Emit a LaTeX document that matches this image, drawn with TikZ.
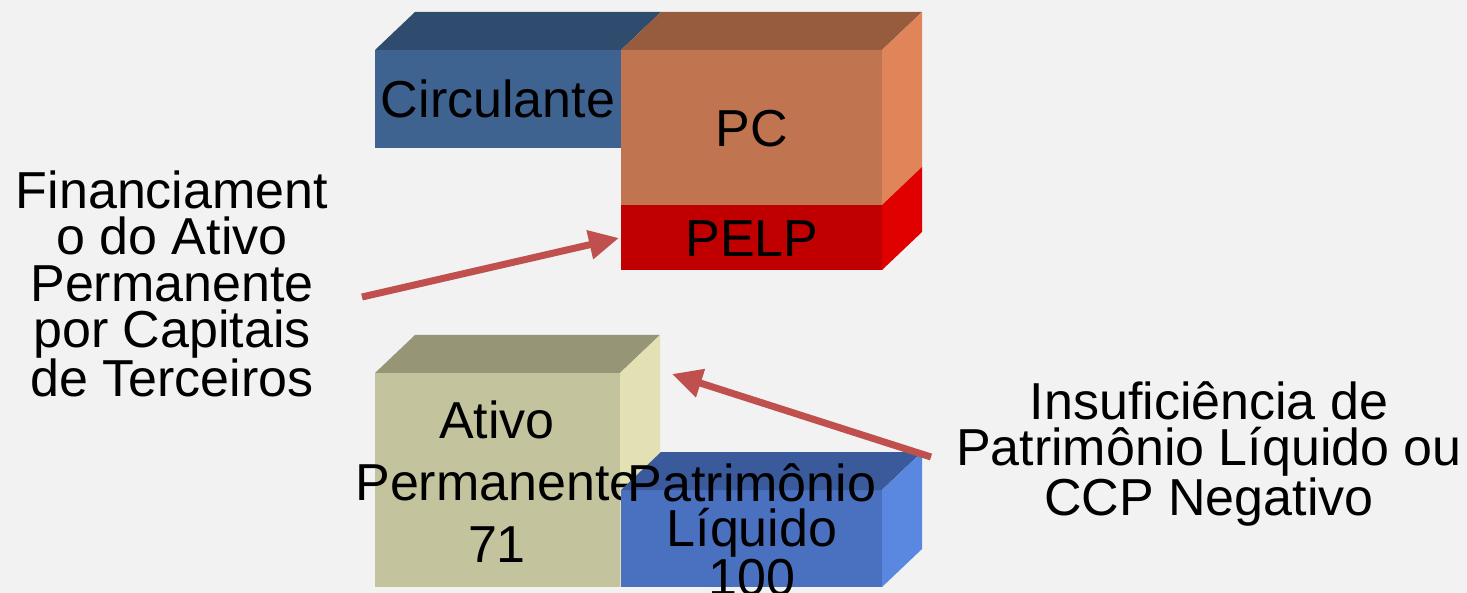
\documentclass[tikz,border=0pt]{standalone}
\usepackage{fontspec}
\setmainfont{Liberation Sans}
\usetikzlibrary{arrows.meta}
\definecolor{bg}{HTML}{F2F2F2}
\definecolor{cirF}{HTML}{3F6391}
\definecolor{cirT}{HTML}{2F4B6E}
\definecolor{pcF}{HTML}{C07450}
\definecolor{pcT}{HTML}{975B3D}
\definecolor{pcR}{HTML}{E0855A}
\definecolor{peF}{HTML}{C00000}
\definecolor{peR}{HTML}{E10000}
\definecolor{atF}{HTML}{C3C39D}
\definecolor{atT}{HTML}{969677}
\definecolor{atR}{HTML}{E3E1B3}
\definecolor{plF}{HTML}{4A71C0}
\definecolor{plT}{HTML}{3A5A9C}
\definecolor{plR}{HTML}{5A88E0}
\definecolor{arr}{HTML}{C0504D}
\tikzset{
  lbl/.style={inner sep=0pt, anchor=base, align=center, font=\fontsize{52pt}{46.5pt}\selectfont},
  boxlbl/.style={inner sep=0pt, anchor=base, align=center, font=\fontsize{52pt}{62pt}\selectfont},
  pllbl/.style={inner sep=0pt, anchor=base, align=center, font=\fontsize{52pt}{45pt}\selectfont},
  conn/.style={draw=arr, line width=7pt, -{Triangle[length=30pt,width=28pt]}}
}
\begin{document}
\begin{tikzpicture}[x=1pt,y=-1pt]
\useasboundingbox[fill=bg] (0,0) rectangle (1467,593);
% Circulante
\fill[cirF] (375,50) rectangle (621,148);
\fill[cirT] (375,50) -- (621,50) -- (661,12) -- (415,12) -- cycle;
\node[lbl] (circ) at (498,118) {Circulante};
% PC
\fill[pcF] (621,50) rectangle (882,205);
\fill[pcT] (621,50) -- (882,50) -- (922,12) -- (661,12) -- cycle;
\fill[pcR] (882,50) -- (922,12) -- (922,167) -- (882,205) -- cycle;
\node[lbl] (pc) at (752,147) {PC};
% PELP
\fill[peF] (621,205) rectangle (882,270);
\fill[peR] (882,205) -- (922,167) -- (922,232) -- (882,270) -- cycle;
\node[lbl] (pelp) at (752,257) {PELP};
% Ativo Permanente
\fill[atF] (375,373) rectangle (620,587);
\fill[atT] (375,373) -- (620,373) -- (660,335) -- (415,335) -- cycle;
\fill[atR] (620,373) -- (660,335) -- (660,549) -- (620,587) -- cycle;
\node[boxlbl] (ativo) at (497,562) {Ativo\\Permanente\\71};
% Patrimonio Liquido
\fill[plF] (621,490) rectangle (882,587);
\fill[plT] (621,490) -- (882,490) -- (922,452) -- (661,452) -- cycle;
\fill[plR] (882,490) -- (922,452) -- (922,549) -- (882,587) -- cycle;
\node[pllbl] (pl) at (752,595) {Patrimônio\\Líquido\\100};
% side texts
\node[lbl] (fin) at (172,397) {Financiament\\o do Ativo\\Permanente\\por Capitais\\de Terceiros};
\node[lbl] (ins) at (1209,515) {Insuficiência de\\Patrimônio Líquido ou\\CCP Negativo};
% arrows
\coordinate (a1s) at (362,297);
\coordinate (a1e) at (619,238);
\coordinate (a2s) at (931,457);
\coordinate (a2e) at (672,374);
\draw[conn] (a1s) -- (a1e);
\draw[conn] (a2s) -- (a2e);
\end{tikzpicture}
\end{document}
